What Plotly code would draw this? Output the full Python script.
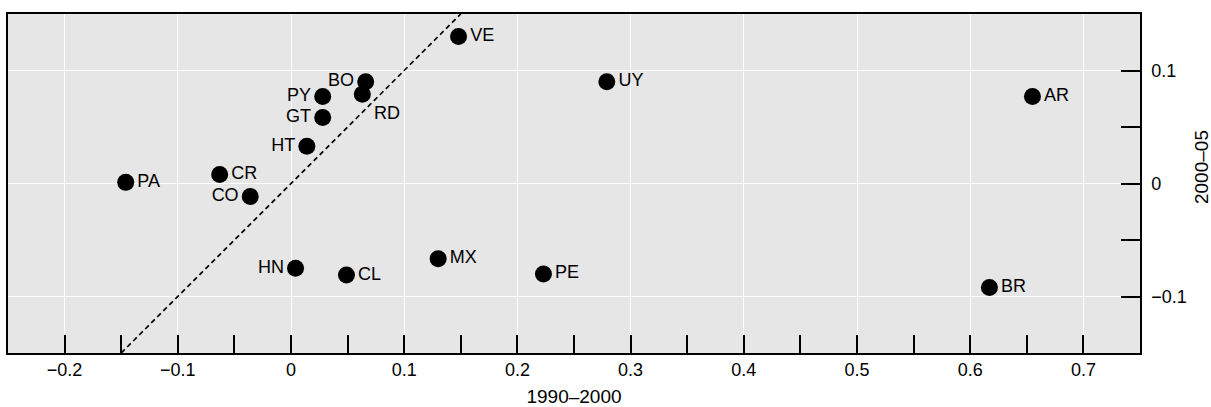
import plotly.graph_objects as go

codes = ["PA", "CR", "CO", "HT", "GT", "PY", "BO", "RD", "VE", "HN", "CL", "MX", "UY", "PE", "AR", "BR"]
x_1990_2000 = [-0.146, -0.063, -0.036, 0.014, 0.028, 0.028, 0.066, 0.063, 0.148, 0.004, 0.049, 0.130, 0.279, 0.223, 0.655, 0.617]
y_2000_05 = [0.001, 0.008, -0.0115, 0.033, 0.0585, 0.077, 0.090, 0.079, 0.130, -0.075, -0.081, -0.0665, 0.090, -0.080, 0.077, -0.092]
label_pos = ["middle right", "middle right", "middle left", "middle left", "middle left", "middle left",
             "middle left", "bottom right", "middle right", "middle left", "middle right", "middle right",
             "middle right", "middle right", "middle right", "middle right"]
diag = [-0.15, 0.15]

FONT = "Liberation Sans, Arial, Helvetica, sans-serif"

fig = go.Figure()
fig.add_trace(go.Scatter(x=diag, y=diag, mode="lines",
                         line=dict(color="black", width=1.7, dash="5px,3.5px"),
                         hoverinfo="skip", showlegend=False))
fig.add_trace(go.Scatter(x=x_1990_2000, y=y_2000_05, mode="markers+text",
                         text=codes, textposition=label_pos,
                         textfont=dict(family=FONT, size=18, color="black"),
                         marker=dict(size=17, color="black"),
                         showlegend=False))

fig.update_layout(
    width=1211, height=407,
    margin=dict(l=8, r=71, t=14, b=54),
    plot_bgcolor="#e6e6e6", paper_bgcolor="white",
    font=dict(family=FONT, size=18, color="black"),
    xaxis=dict(range=[-0.25, 0.75], dtick=0.1, tick0=0, tickformat="~g",
               ticks="inside", ticklen=18, tickwidth=1.5, tickcolor="black",
               minor=dict(dtick=0.05, tick0=0, ticks="inside", ticklen=18, tickwidth=1.5,
                          tickcolor="black", showgrid=False),
               showgrid=True, gridcolor="white", gridwidth=1,
               showline=True, linecolor="black", linewidth=1.5, mirror=True,
               zeroline=False, automargin=False,
               title=dict(text="1990–2000", font=dict(size=19), standoff=20)),
    yaxis=dict(range=[-0.15, 0.15], dtick=0.1, tick0=0, tickformat="~g", side="right",
               ticks="inside", ticklen=19, tickwidth=1.5, tickcolor="black",
               minor=dict(dtick=0.05, tick0=0, ticks="inside", ticklen=19, tickwidth=1.5,
                          tickcolor="black", showgrid=False),
               showgrid=True, gridcolor="white", gridwidth=1,
               showline=True, linecolor="black", linewidth=1.5, mirror=True,
               zeroline=False, automargin=False, ticklabelstandoff=6),
    annotations=[dict(text="2000–05", xref="paper", yref="paper", x=1.0548, y=0.5487,
                      textangle=-90, showarrow=False, xanchor="center", yanchor="middle",
                      font=dict(size=19))],
)

fig.write_html("out.html")
